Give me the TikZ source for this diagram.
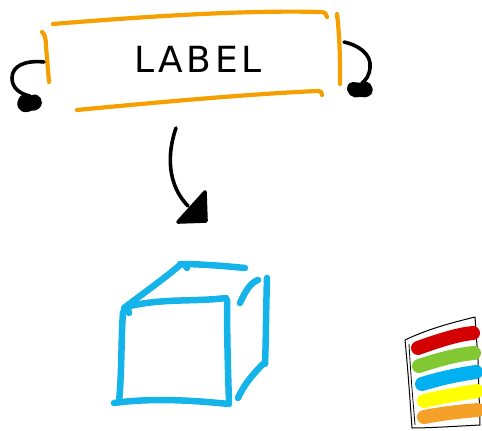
\documentclass[tikz,border=0pt]{standalone}
\usepackage{fontspec}
\setmainfont{DejaVu Sans}
\usepackage{tikz}
\usetikzlibrary{arrows.meta,positioning}
\definecolor{SketchOrange}{RGB}{245,160,0}
\definecolor{SketchCyan}{RGB}{20,180,234}
\definecolor{StripeRed}{RGB}{210,0,0}
\definecolor{StripeGreen}{RGB}{130,200,50}
\definecolor{StripeBlue}{RGB}{0,176,240}
\definecolor{StripeYellow}{RGB}{255,255,0}
\definecolor{StripeOrange}{RGB}{245,160,40}
\tikzset{
  frame/.style={draw=SketchOrange, line width=4.2pt, line cap=round, line join=round},
  ink/.style={draw=black, line width=3.6pt, line cap=round, line join=round},
  cube/.style={draw=SketchCyan, line width=6.5pt, line cap=round, line join=round},
  stripe/.style={line width=14pt, line cap=round},
  labeltext/.style={font=\fontsize{36}{40}\selectfont\addfontfeatures{LetterSpace=10}, text=black}
}

\begin{document}
\begin{tikzpicture}[x=1pt, y=-1pt]
\useasboundingbox (0,0) rectangle (482,431);

% banner
\node[labeltext] (label) at (198,59) {LABEL};
\draw[frame] (53,24) .. controls (150,16) and (250,10) .. (320,12)
  .. controls (325,12) and (327,14) .. (327,17);
\draw[frame] (42,32) .. controls (45,34) and (46,40) .. (46,46) -- (49,82);
\draw[frame] (337,14) .. controls (340,40) and (340,60) .. (340,84);
\draw[frame] (77,110) .. controls (160,102) and (250,94) .. (317,91)
  .. controls (321,91) and (323,93) .. (322,95);

% curls at the banner ends
\draw[ink] (44,62) .. controls (25,60) and (12,66) .. (12,78)
  .. controls (12,88) and (20,94) .. (30,96);
\draw[ink, fill=black] (22,97) .. controls (16,104) and (20,112) .. (28,110)
  .. controls (36,109) and (30,100) .. (27,103)
  .. controls (23,106) and (32,112) .. (38,107)
  .. controls (43,102) and (38,94) .. (32,97)
  .. controls (28,99) and (25,95) .. (22,97);
\draw[ink] (344,42) .. controls (358,45) and (372,54) .. (370,68)
  .. controls (369,76) and (366,80) .. (362,83);
\draw[ink, fill=black] (350,85) .. controls (346,92) and (354,98) .. (360,95)
  .. controls (366,92) and (360,84) .. (356,89)
  .. controls (354,93) and (364,99) .. (370,93)
  .. controls (373,87) and (367,81) .. (362,84)
  .. controls (358,86) and (354,82) .. (350,85);

% arrow to the cube
\coordinate (tail) at (176,128);
\coordinate (tip) at (205,192);
\draw[ink] (tail) .. controls (170,145) and (163,180) .. (188,206);
\draw[ink, fill=black] (tip) -- (178,222) -- (206,221) -- cycle;

% cube
\draw[cube] (123,312) .. controls (121,340) and (122,370) .. (119,402);
\draw[cube] (126,307) .. controls (160,298) and (195,302) .. (226,298);
\draw[cube] (227,300) .. controls (227,340) and (228,370) .. (229,403);
\draw[cube] (114,403) .. controls (150,398) and (190,400) .. (229,404);
\draw[cube] (124,308) .. controls (145,292) and (165,278) .. (180,265);
\draw[cube] (180,264) .. controls (200,264) and (225,266) .. (245,268);
\draw[cube] (240,303) .. controls (245,292) and (250,283) .. (258,280);
\draw[cube] (267,278) .. controls (266,310) and (266,340) .. (265,364);
\draw[cube] (263,364) .. controls (252,375) and (244,385) .. (238,398);
\draw[cube] (127,307) -- (129,313);
\draw[cube] (185,265) -- (187,268);

% colour swatch
\draw[black, line width=1pt, line join=round]
  (405,340) .. controls (430,328) and (455,322) .. (475,317)
  -- (478,360) -- (480,425) .. controls (460,426) and (430,428) .. (412,428)
  .. controls (410,400) and (408,370) .. (405,340);
\draw[black, line width=0.8pt] (409,344) .. controls (411,380) and (413,400) .. (415,425);
\draw[stripe, StripeRed] (418,348) .. controls (440,340) and (460,334) .. (473,333);
\draw[stripe, StripeGreen] (419,366) .. controls (440,359) and (460,354) .. (474,353);
\draw[stripe, StripeBlue] (422,384) .. controls (445,377) and (462,374) .. (476,372);
\draw[stripe, StripeYellow] (424,401) .. controls (445,396) and (465,393) .. (477,391);
\draw[stripe, StripeOrange] (424,417) .. controls (445,413) and (465,411) .. (478,410);
\end{tikzpicture}
\end{document}
